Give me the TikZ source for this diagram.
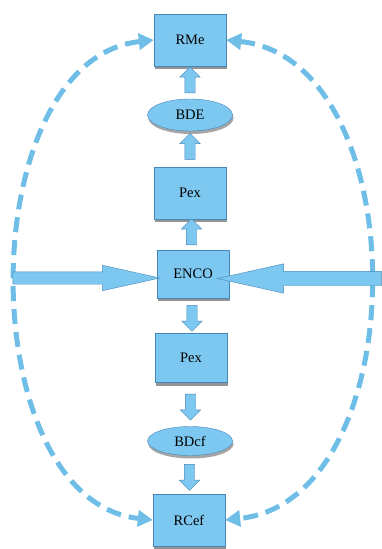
\documentclass[tikz,border=0pt]{standalone}
\usepackage{fontspec}
\setmainfont{Liberation Serif}
\usetikzlibrary{arrows.meta, positioning, shapes.geometric, shapes.arrows, shadows, calc}

\definecolor{skyfill}{RGB}{125,200,240}
\definecolor{skyline}{RGB}{70,135,185}
\definecolor{loopblue}{RGB}{110,190,232}

\begin{document}
\begin{tikzpicture}[x=1pt, y=-1pt,
    every node/.style={font=\fontsize{14.5}{16}\selectfont},
    box/.style={draw=skyline, fill=skyfill, minimum width=72pt, minimum height=52pt,
        drop shadow={shadow xshift=1pt, shadow yshift=-3pt, opacity=0.6, fill=black!70}},
    oval/.style={ellipse, draw=skyline, fill=skyfill, minimum width=85pt, minimum height=32pt, inner sep=0pt,
        drop shadow={shadow xshift=1pt, shadow yshift=-3pt, opacity=0.5, fill=black!70}},
    blk/.style={single arrow, draw=skyline, fill=skyfill, inner xsep=0pt, inner ysep=5pt,
        single arrow head extend=5pt, single arrow head indent=0pt, minimum height=26pt},
    bigblk/.style={single arrow, draw=skyline, fill=skyfill, inner xsep=0pt, single arrow head indent=0pt,
        single arrow tip angle=25},
    loop/.style={loopblue, line width=5pt, dash pattern=on 15pt off 8pt,
        {Triangle[length=15pt, width=16pt]}-{Triangle[length=15pt, width=16pt]}}
]
    \useasboundingbox (0,0) rectangle (382,549);

    % chain of blocks
    \node[box] (rme) at (190,40) {RMe};
    \node[oval] (bde) at (190,115) {BDE};
    \node[box] (pex1) at (190,193) {Pex};
    \node[box, minimum height=48pt] (enco) at (193,274) {ENCO};
    \node[box, minimum height=49pt] (pex2) at (191,358) {Pex};
    \node[oval, minimum height=29pt] (bdcf) at (190,441) {BDcf};
    \node[box] (rcef) at (189,520) {RCef};

    % dashed feedback loops
    \draw[loop] (rme.west) .. controls (-29,60) and (-29,500) .. (rcef.west);
    \draw[loop] (rme.east) .. controls (417,60) and (417,500) .. (rcef.east);

    % small block arrows
    \node[blk, rotate=90] (up1) at ($(bde.north)!0.5!(rme.south)$) {};
    \node[blk, rotate=90] (up2) at ($(pex1.north)!0.5!(bde.south)$) {};
    \node[blk, rotate=90] (up3) at ($(enco.north)!0.5!(pex1.south)$) {};
    \node[blk, rotate=-90] (dn1) at ($(enco.south)!0.5!(pex2.north)$) {};
    \node[blk, rotate=-90] (dn2) at ($(pex2.south)!0.5!(bdcf.north)$) {};
    \node[blk, rotate=-90] (dn3) at ($(bdcf.south)!0.5!(rcef.north)$) {};

    % inputs from both sides
    \coordinate (lin) at (0,282);
    \coordinate (rin) at (382,283);
    \node[bigblk, minimum height=147pt, inner ysep=6pt, single arrow head extend=6.5pt]
        (inleft) at ($(lin)!0.5!(enco.west)+(-6,0)$) {};
    \node[bigblk, minimum height=164pt, inner ysep=7pt, single arrow head extend=7.5pt,
        rotate=180] (inright) at ($(rin)!0.5!(enco.east)+(10,0)$) {};
\end{tikzpicture}
\end{document}
